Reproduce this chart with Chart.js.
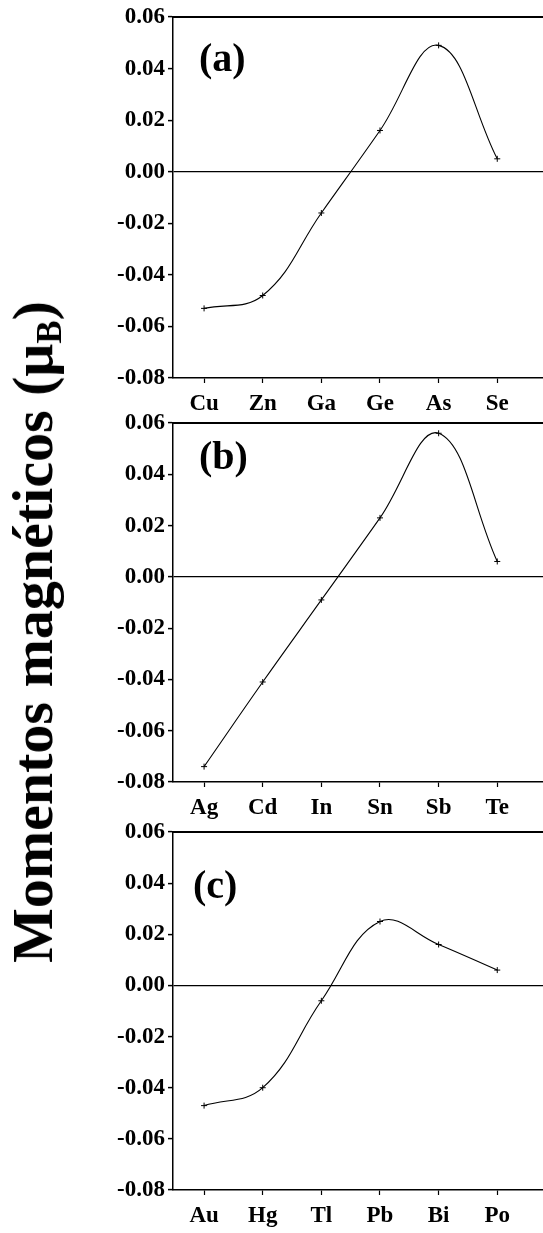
<!DOCTYPE html>
<html>
<head>
<meta charset="utf-8">
<script src="https://cdn.jsdelivr.net/npm/chart.js@4.4.0/dist/chart.umd.min.js"></script>
<style>
  body { margin: 0; background: #fff; }
  #wrap { position: relative; width: 543px; height: 1233px; overflow: hidden; background: #fff; }
  canvas { position: absolute; left: 0; }
  #ytitle {
    position: absolute; left: 33px; top: 632px;
    font-family: "Liberation Serif", "Times New Roman", serif;
    font-weight: bold; font-size: 58px; line-height: 1; white-space: nowrap;
    transform: translate(-50%, -50%) rotate(-90deg);
  }
  #ytitle sub { font-size: 60%; vertical-align: -0.25em; line-height: 0; }
</style>
</head>
<body>
<div id="wrap">
  <canvas id="chartA"></canvas>
  <canvas id="chartB"></canvas>
  <canvas id="chartC"></canvas>
  <div id="ytitle">Momentos magnéticos (μ<sub>B</sub>)</div>
</div>
<script>
// elements of each row
const catsA = ['Cu', 'Zn', 'Ga', 'Ge', 'As', 'Se'];
const catsB = ['Ag', 'Cd', 'In', 'Sn', 'Sb', 'Te'];
const catsC = ['Au', 'Hg', 'Tl', 'Pb', 'Bi', 'Po'];

// magnetic moments (muB)
const valsA = [-0.053, -0.048, -0.016, 0.016, 0.049, 0.005];
const valsB = [-0.074, -0.041, -0.009, 0.023, 0.056, 0.006];
const valsC = [-0.047, -0.040, -0.006, 0.025, 0.016, 0.006];

const panelNames = ['(a)', '(b)', '(c)'];

const yMin = -0.08, yMax = 0.06, yStep = 0.01;

const font = 'Liberation Serif';

// canvas top, plot top, plot bottom, canvas bottom, label x, label baseline
const panels = [
  { id: 'chartA', cats: catsA, vals: valsA, top: 0,   plotTop: 17,  plotBottom: 378,  bottom: 418,  lx: 199, ly: 71 },
  { id: 'chartB', cats: catsB, vals: valsB, top: 400, plotTop: 423, plotBottom: 782,  bottom: 822,  lx: 199, ly: 469 },
  { id: 'chartC', cats: catsC, vals: valsC, top: 810, plotTop: 832, plotBottom: 1190, bottom: 1233, lx: 193, ly: 898 }
];

function noSidePad(s) {
  s.paddingLeft = 0;
  s.paddingRight = 0;
}

panels.forEach((p, k) => {
  const canvas = document.getElementById(p.id);
  const h = p.bottom - p.top;
  canvas.width = 543;
  canvas.height = h;
  canvas.style.top = p.top + 'px';
  canvas.style.width = '543px';
  canvas.style.height = h + 'px';

  const panelLabel = {
    id: 'panelLabel',
    afterDraw(chart) {
      const c = chart.ctx;
      c.save();
      c.font = 'bold 40px "' + font + '"';
      c.fillStyle = '#000';
      c.textBaseline = 'alphabetic';
      c.fillText(panelNames[k], p.lx, p.ly - p.top);
      c.restore();
    }
  };

  new Chart(canvas, {
    type: 'line',
    data: {
      datasets: [{
        data: p.cats.map((c, i) => ({ x: i + 1, y: p.vals[i] })),
        borderColor: '#000',
        borderWidth: 1.1,
        tension: 0.4,
        pointStyle: 'cross',
        pointRadius: 3,
        pointBorderColor: '#000',
        pointBorderWidth: 1,
        fill: false,
        clip: false
      }]
    },
    options: {
      responsive: false,
      animation: false,
      devicePixelRatio: 1,
      layout: { autoPadding: false, padding: { top: p.plotTop - p.top, left: 0, right: 0, bottom: 0 } },
      plugins: { legend: { display: false }, tooltip: { enabled: false } },
      scales: {
        x: {
          type: 'linear',
          position: 'bottom',
          min: 0.47,
          max: 6.78,
          afterFit(s) { s.height = p.bottom - p.plotBottom; noSidePad(s); },
          ticks: {
            stepSize: 1,
            includeBounds: false,
            autoSkip: false,
            maxRotation: 0,
            padding: 7,
            color: '#000',
            font: { family: font, weight: 'bold', size: 23 },
            callback: v => p.cats[v - 1] || ''
          },
          grid: { drawOnChartArea: false, tickLength: 5, tickColor: '#000', tickWidth: 1.2 },
          border: { color: '#000', width: 1.5 }
        },
        xTop: {
          type: 'linear',
          position: 'top',
          min: 0.47,
          max: 6.78,
          afterFit(s) { s.height = 0; noSidePad(s); },
          ticks: { display: false },
          grid: { display: false },
          border: { color: '#000', width: 2 }
        },
        y: {
          min: yMin,
          max: yMax,
          afterFit(s) { s.width = 173; },
          ticks: {
            stepSize: yStep,
            padding: 3,
            color: '#000',
            font: { family: font, weight: 'bold', size: 23 },
            callback: v => {
              const n = Math.round(v * 100);
              if (n % 2 !== 0) return '';
              return (n / 100).toFixed(2);
            }
          },
          grid: {
            drawOnChartArea: true,
            color: c => Math.round(c.tick.value * 100) === 0 ? '#000' : 'rgba(0,0,0,0)',
            lineWidth: 1.2,
            tickLength: 5,
            tickColor: '#000',
            tickWidth: c => Math.round(c.tick.value * 100) % 2 === 0 ? 1.5 : 1
          },
          border: { color: '#000', width: 1.5 }
        }
      }
    },
    plugins: [panelLabel]
  });
});
</script>
</body>
</html>
